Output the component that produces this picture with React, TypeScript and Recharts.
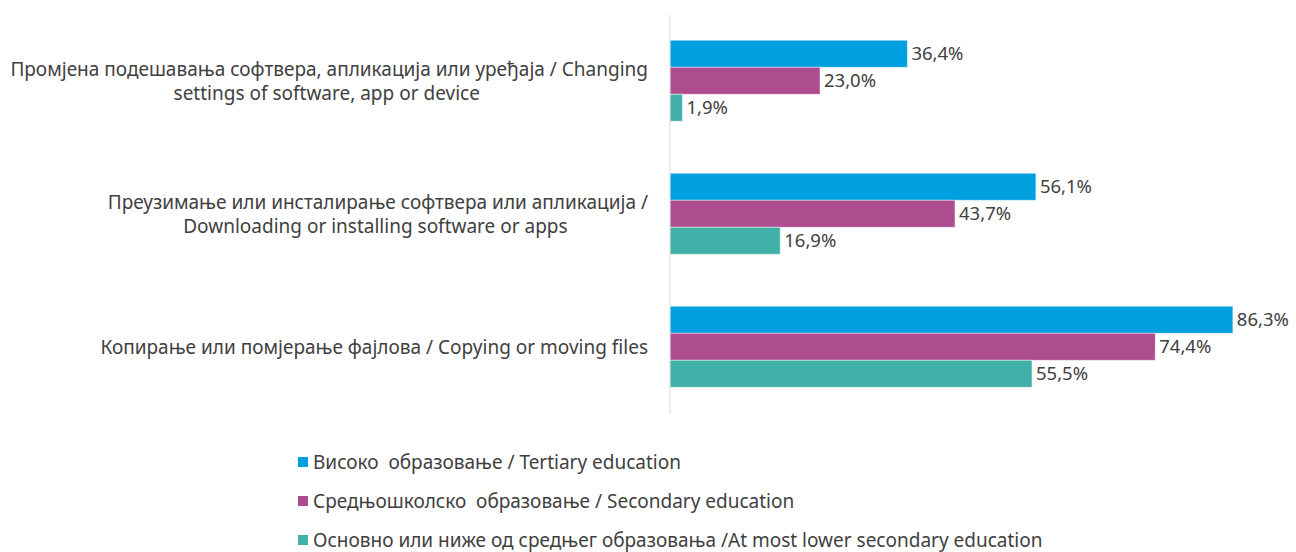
import React from 'react';
import { BarChart, Bar, XAxis, YAxis, LabelList, Legend } from 'recharts';

const categories = [
  'Промјена подешавања софтвера, апликација  или уређаја / Changing settings of software, app or device',
  'Преузимање или инсталирање софтвера или апликација / Downloading or installing software or apps',
  'Копирање или помјерање фајлова / Copying or moving files',
];
const categoryLines: string[][] = [
  ['Промјена подешавања софтвера, апликација  или уређаја / Changing', 'settings of software, app or device'],
  ['Преузимање или инсталирање софтвера или апликација  /', 'Downloading or installing software or apps'],
  ['Копирање или помјерање фајлова / Copying or moving files'],
];
const tertiary = [36.4, 56.1, 86.3];
const secondary = [23.0, 43.7, 74.4];
const lower = [1.9, 16.9, 55.5];
const seriesNames = [
  'Високо  образовање / Tertiary education',
  'Средњошколско  образовање / Secondary education',
  'Основно или ниже од средњег образовања /At most lower secondary education',
];
const seriesKeys = ['tertiary', 'secondary', 'lower'];
const colors = ['#009FE0', '#AD4C8E', '#41B0A9'];

const data = categories.map((c, i) => ({
  category: c,
  tertiary: tertiary[i],
  secondary: secondary[i],
  lower: lower[i],
}));

const FONT = '"Noto Sans", sans-serif';
const TEXT = '#404040';
const TICK_SIZE = 19;

let ctx: CanvasRenderingContext2D | null = null;
const measure = (s: string, size: number) => {
  try {
    if (!ctx) ctx = document.createElement('canvas').getContext('2d');
    if (ctx) {
      ctx.font = `${size}px "Noto Sans"`;
      return ctx.measureText(s).width;
    }
  } catch (e) {}
  return s.length * size * 0.5;
};

const CategoryTick = (props: any) => {
  const { y, payload, index } = props;
  const idx = typeof index === 'number' ? index : categories.indexOf(payload.value);
  const lines = categoryLines[idx] || [payload.value];
  const rightX = 648;
  if (lines.length === 1) {
    return (
      <text x={rightX} y={y} dy={6} textAnchor="end" fontSize={TICK_SIZE} fill={TEXT} fontFamily={FONT}>
        {lines[0]}
      </text>
    );
  }
  const w1 = measure(lines[0], TICK_SIZE);
  const cx = rightX - w1 / 2;
  return (
    <g>
      <text x={rightX} y={y - 12} dy={6} textAnchor="end" fontSize={TICK_SIZE} fill={TEXT} fontFamily={FONT}>
        {lines[0]}
      </text>
      <text x={cx} y={y + 12} dy={6} textAnchor="middle" fontSize={TICK_SIZE} fill={TEXT} fontFamily={FONT}>
        {lines[1]}
      </text>
    </g>
  );
};

const LegendContent = () => (
  <div style={{ fontFamily: FONT, fontSize: 19, color: TEXT }}>
    {seriesNames.map((n, i) => (
      <div key={n} style={{ display: 'flex', alignItems: 'center', height: 39, whiteSpace: 'pre' }}>
        <span style={{ display: 'inline-block', width: 10, height: 10, background: colors[i], marginRight: 5 }} />
        <span>{n}</span>
      </div>
    ))}
  </div>
);

const fmt = (v: any) => `${Number(v).toFixed(1).replace('.', ',')}%`;

export default function App() {
  return (
    <div style={{ position: 'absolute', left: 0, top: 0, background: '#fff' }}>
      <BarChart
        width={1296}
        height={552}
        data={data}
        layout="vertical"
        margin={{ top: 15, right: 39, bottom: 138, left: 0 }}
        barCategoryGap="19%"
        barGap={0}
      >
        <XAxis type="number" domain={[0, 90]} hide />
        <YAxis
          type="category"
          dataKey="category"
          width={670}
          axisLine={{ stroke: '#d9d9d9' }}
          tickLine={false}
          tick={<CategoryTick />}
          interval={0}
        />
        <Legend
          layout="horizontal"
          verticalAlign="middle"
          align="center"
          content={<LegendContent />}
          wrapperStyle={{ position: 'absolute', left: 298, top: 442, width: 900 }}
        />
        {seriesKeys.map((k, i) => (
          <Bar
            key={k}
            dataKey={k}
            name={seriesNames[i]}
            fill={colors[i]}
            stroke="rgba(255,255,255,0.45)"
            strokeWidth={1}
            isAnimationActive={false}
          >
            <LabelList
              dataKey={k}
              position="right"
              offset={4}
              formatter={fmt}
              fill={TEXT}
              fontSize={18.5}
              fontFamily={FONT}
            />
          </Bar>
        ))}
      </BarChart>
    </div>
  );
}
